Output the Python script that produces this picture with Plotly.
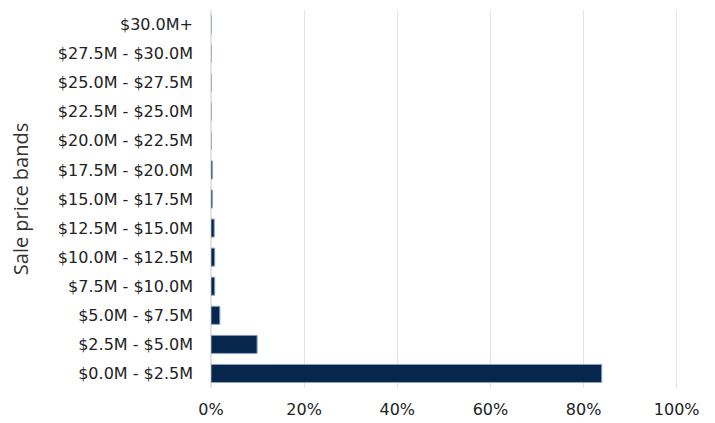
import plotly.graph_objects as go

categories = ["$0.0M - $2.5M", "$2.5M - $5.0M", "$5.0M - $7.5M", "$7.5M - $10.0M",
              "$10.0M - $12.5M", "$12.5M - $15.0M", "$15.0M - $17.5M", "$17.5M - $20.0M",
              "$20.0M - $22.5M", "$22.5M - $25.0M", "$25.0M - $27.5M", "$27.5M - $30.0M",
              "$30.0M+"]
shares = [0.839, 0.099, 0.019, 0.008, 0.008, 0.007, 0.003, 0.003, 0, 0, 0, 0, 0]
tick_vals = [0, 0.2, 0.4, 0.6, 0.8, 1.0]
tick_text = ["0%", "20%", "40%", "60%", "80%", "100%"]

fig = go.Figure(go.Bar(
    x=shares, y=categories, orientation="h",
    marker=dict(color="#06264d", line=dict(color="#8fa3bd", width=1)),
))
fig.update_layout(
    width=715, height=423,
    margin=dict(l=211, r=15, t=10, b=35),
    paper_bgcolor="white", plot_bgcolor="white",
    font=dict(family="DejaVu Sans, sans-serif", size=16, color="#222222"),
    bargap=0.38, showlegend=False,
)
fig.update_xaxes(range=[0, 1.05], tickvals=tick_vals, ticktext=tick_text,
                 showgrid=True, gridcolor="#e3e3e3", zeroline=True, zerolinecolor="#e3e3e3",
                 ticks="", showline=False, automargin=False, ticklabelstandoff=10)
fig.update_yaxes(categoryorder="array", categoryarray=categories, automargin=False,
                 ticklabelstandoff=17,
                 title=dict(text="Sale price bands", standoff=23,
                            font=dict(family="Open Sans, sans-serif", size=20, color="#333333")),
                 ticks="", showline=False)
fig.write_html("out.html", post_script="document.body.style.margin='0';",
               config={"displayModeBar": False})
